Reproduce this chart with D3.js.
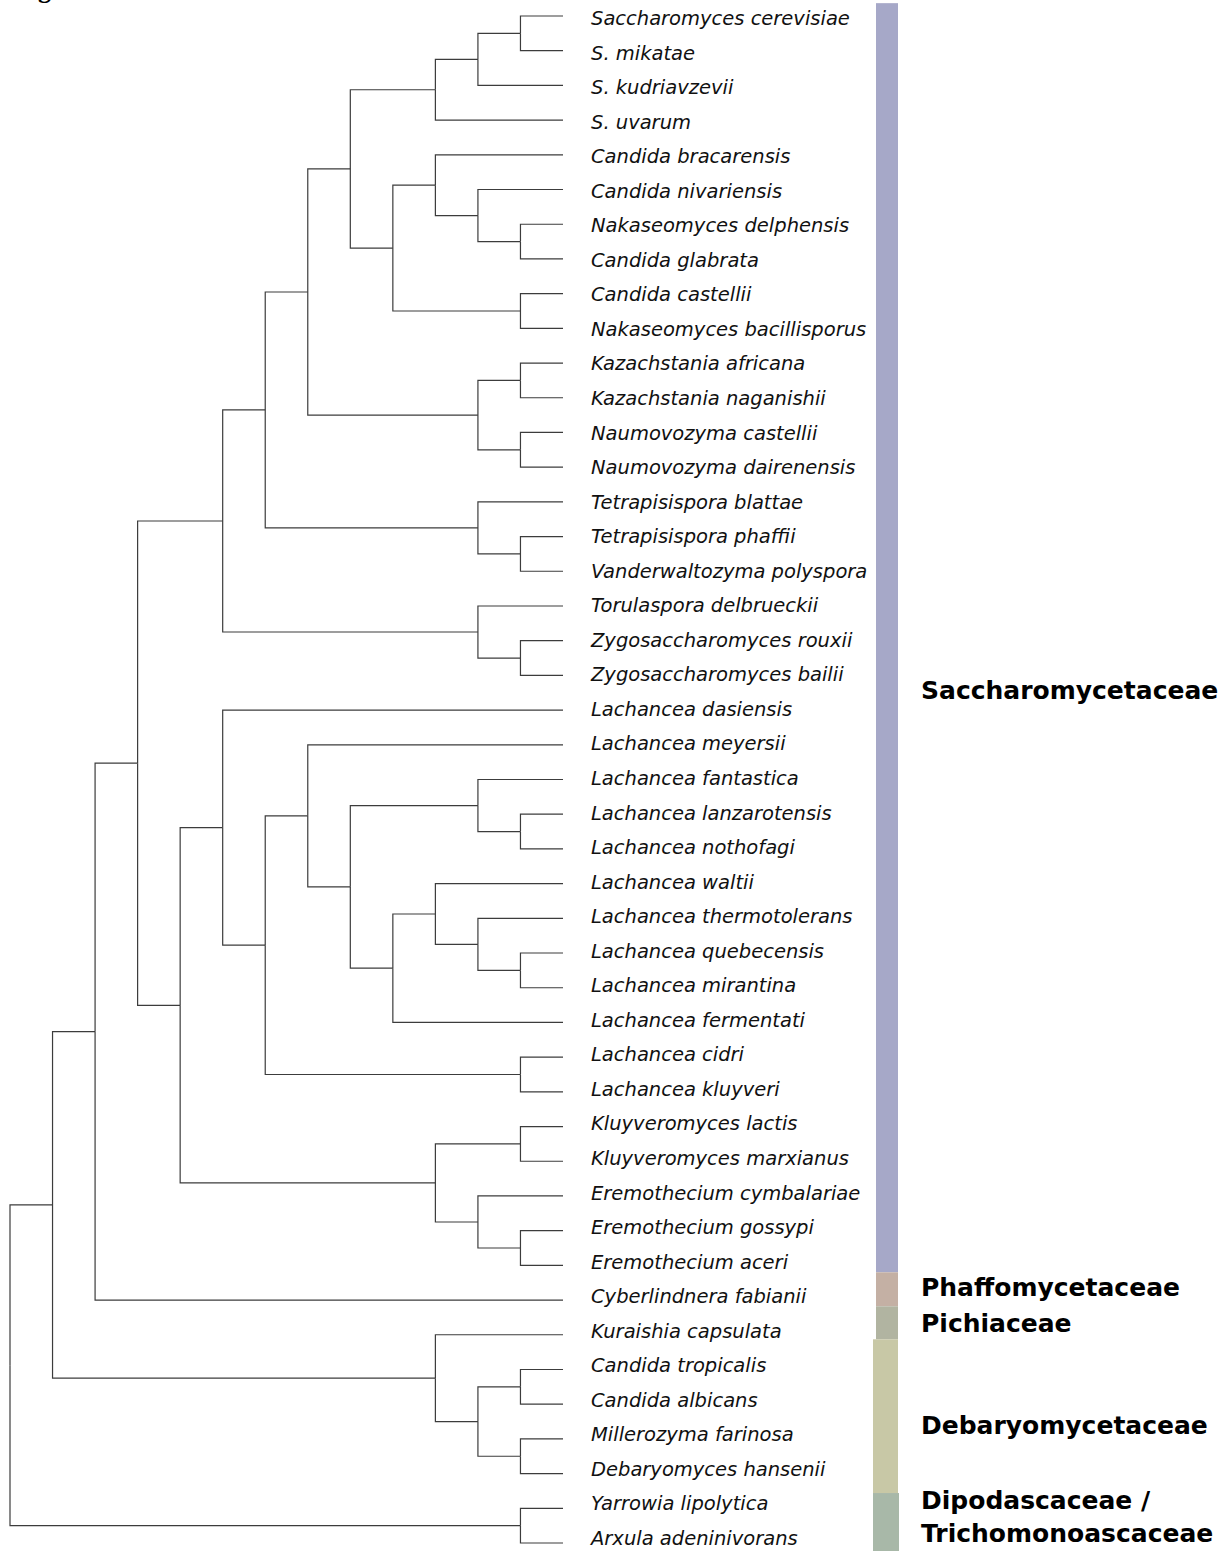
<!DOCTYPE html>
<html>
<head>
<meta charset="utf-8">
<script src="https://cdn.jsdelivr.net/npm/d3@7/dist/d3.min.js"></script>
<style>
  html, body { margin: 0; padding: 0; background: #fff; }
  svg { display: block; }
</style>
</head>
<body>
<svg id="chart" width="1232" height="1551"></svg>
<script>
// ---- Tree topology (nested pairs, leaves are species names) ----
const saccharomyces = [[["Saccharomyces cerevisiae", "S. mikatae"], "S. kudriavzevii"], "S. uvarum"];
const nakaseomyces = [["Candida bracarensis", ["Candida nivariensis", ["Nakaseomyces delphensis", "Candida glabrata"]]],
                      ["Candida castellii", "Nakaseomyces bacillisporus"]];
const kazachNaumo = [["Kazachstania africana", "Kazachstania naganishii"], ["Naumovozyma castellii", "Naumovozyma dairenensis"]];
const tetrapisispora = ["Tetrapisispora blattae", ["Tetrapisispora phaffii", "Vanderwaltozyma polyspora"]];
const zygoTorula = ["Torulaspora delbrueckii", ["Zygosaccharomyces rouxii", "Zygosaccharomyces bailii"]];
const lachancea = ["Lachancea dasiensis",
  [["Lachancea meyersii",
     [["Lachancea fantastica", ["Lachancea lanzarotensis", "Lachancea nothofagi"]],
      [["Lachancea waltii", ["Lachancea thermotolerans", ["Lachancea quebecensis", "Lachancea mirantina"]]],
       "Lachancea fermentati"]]],
   ["Lachancea cidri", "Lachancea kluyveri"]]];
const kluyEremo = [["Kluyveromyces lactis", "Kluyveromyces marxianus"],
                   ["Eremothecium cymbalariae", ["Eremothecium gossypi", "Eremothecium aceri"]]];
const cugClade = ["Kuraishia capsulata", [["Candida tropicalis", "Candida albicans"], ["Millerozyma farinosa", "Debaryomyces hansenii"]]];
const yarrowiaClade = ["Yarrowia lipolytica", "Arxula adeninivorans"];

const tree = [[[[[[[[saccharomyces, nakaseomyces], kazachNaumo], tetrapisispora], zygoTorula],
                 [lachancea, kluyEremo]], "Cyberlindnera fabianii"], cugClade], yarrowiaClade];

// ---- Families (consecutive runs of leaves, top to bottom) ----
const familyNames = ["Saccharomycetaceae", "Phaffomycetaceae", "Pichiaceae", "Debaryomycetaceae", "Dipodascaceae / Trichomonoascaceae"];
const familyLabelLines = [["Saccharomycetaceae"], ["Phaffomycetaceae"], ["Pichiaceae"], ["Debaryomycetaceae"], ["Dipodascaceae /", "Trichomonoascaceae"]];
const familyLeafCounts = [37, 1, 1, 4, 2];
const familyColors = ["#a6a8c8", "#c4b0a4", "#b1b4a1", "#c8c8a6", "#a8b8a8"];

// ---- Layout ----
const W = 1232, H = 1551;
const tipX = 563, rootX = 10, labelGap = 28;
const firstLeafY = 16, lastLeafY = 1543;
// species-name baselines for the first and last leaf
const firstTextY = 25, lastTextY = 1545;
// colour-strip edges, in leaf units (leaf i sits at i)
const bandEdges = [-0.37, 36.2, 37.18, 38.13, 42.56, 44.4];
const bandX = [[876, 898], [876, 898], [876, 898], [873, 898], [873, 899]];
const familyLabelX = 921;
const familyLabelBaselines = [[699], [1296], [1332], [1434], [1509, 1542]];

const svg = d3.select("#chart");

const root = d3.hierarchy(tree, d => Array.isArray(d) ? d : null);
const nLeaves = root.leaves().length;
const depthMax = root.height;

d3.cluster()
  .separation(() => 1)
  .size([nLeaves, depthMax])(root);

// cluster puts leaf i at i + 0.5 along the breadth axis
const yScale = d3.scaleLinear().domain([0.5, nLeaves - 0.5]).range([firstLeafY, lastLeafY]);
const textScale = d3.scaleLinear().domain([0.5, nLeaves - 0.5]).range([firstTextY, lastTextY]);
const xScale = d3.scaleLinear().domain([0, depthMax]).range([rootX, tipX]);
const leafY = i => yScale(i + 0.5);

// ---- Branches (right-angle elbows) ----
svg.append("g")
  .attr("fill", "none")
  .attr("stroke", "#3c3c3c")
  .attr("stroke-width", 1.2)
  .selectAll("path")
  .data(root.links())
  .join("path")
  .attr("d", l => {
    const px = xScale(l.source.y), py = yScale(l.source.x);
    const cx = xScale(l.target.y), cy = yScale(l.target.x);
    return `M${px},${py}V${cy}H${cx}`;
  });

// ---- Species labels ----
svg.append("g")
  .attr("font-family", "'DejaVu Sans', sans-serif")
  .attr("font-style", "italic")
  .attr("font-size", 19.5)
  .attr("fill", "#111")
  .selectAll("text")
  .data(root.leaves())
  .join("text")
  .attr("x", d => xScale(d.y) + labelGap)
  .attr("y", d => textScale(d.x))
  .text(d => d.data);

// ---- Family colour strips ----
svg.append("g")
  .selectAll("rect")
  .data(familyNames)
  .join("rect")
  .attr("x", (d, i) => bandX[i][0])
  .attr("width", (d, i) => bandX[i][1] - bandX[i][0])
  .attr("y", (d, i) => leafY(bandEdges[i]))
  .attr("height", (d, i) => leafY(bandEdges[i + 1]) - leafY(bandEdges[i]))
  .attr("fill", (d, i) => familyColors[i]);

// ---- Family names ----
const famG = svg.append("g")
  .attr("font-family", "'DejaVu Sans', sans-serif")
  .attr("font-weight", "bold")
  .attr("font-size", 25)
  .attr("fill", "#000");

familyLabelLines.forEach((lines, i) => {
  lines.forEach((line, j) => {
    famG.append("text")
      .attr("x", familyLabelX)
      .attr("y", familyLabelBaselines[i][j])
      .text(line);
  });
});

// ---- Figure caption, running off the top edge ----
svg.append("text")
  .attr("x", 15)
  .attr("y", -2.5)
  .attr("font-family", "'Liberation Serif', serif")
  .attr("font-weight", "bold")
  .attr("font-size", 26)
  .text("Fig.");
</script>
</body>
</html>
